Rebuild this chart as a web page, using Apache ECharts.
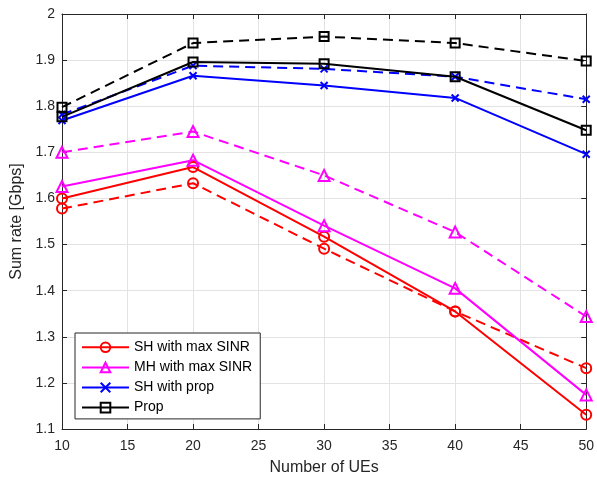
<!DOCTYPE html>
<html>
<head>
<meta charset="utf-8">
<script src="https://cdn.jsdelivr.net/npm/echarts@6/dist/echarts.min.js"></script>
<style>
  html, body { margin: 0; padding: 0; background: #fff; }
  #chart { width: 597px; height: 481px; }
</style>
</head>
<body>
<div id="chart"></div>
<script>
// Number of UEs on the x axis
const ues = [10, 20, 30, 40, 50];

// Sum rate [Gbps], solid and dashed variant of each scheme
const shMaxSinr      = [1.600, 1.668, 1.517, 1.355, 1.131];
const shMaxSinrDash  = [1.578, 1.633, 1.491, 1.355, 1.232];
const mhMaxSinr      = [1.626, 1.683, 1.541, 1.405, 1.174];
const mhMaxSinrDash  = [1.700, 1.745, 1.650, 1.527, 1.344];
const shProp         = [1.769, 1.866, 1.845, 1.818, 1.696];
const shPropDash     = [1.782, 1.888, 1.881, 1.864, 1.815];
const prop           = [1.777, 1.896, 1.892, 1.864, 1.748];
const propDash       = [1.798, 1.937, 1.951, 1.937, 1.898];

const legendNames = ['SH with max SINR', 'MH with max SINR', 'SH with prop', 'Prop'];

const FONT = 'Liberation Sans, Arial, sans-serif';
const AXIS_COLOR = '#262626';
const GRID_COLOR = '#e3e3e3';
const CROSS = 'path://M0,0L10,10M10,0L0,10';

function pairs(vals) {
  return ues.map((x, i) => [x, vals[i]]);
}

function makeSeries(name, vals, color, symbol, size, dashed) {
  return {
    name: name,
    type: 'line',
    data: pairs(vals),
    symbol: symbol,
    symbolSize: size,
    symbolKeepAspect: true,
    showAllSymbol: true,
    animation: false,
    z: dashed ? 2 : 3,
    lineStyle: {
      color: color,
      width: 2,
      type: dashed ? [10, 6] : 'solid'
    },
    itemStyle: {
      color: 'none',
      borderColor: color,
      borderWidth: 2
    },
    emphasis: { disabled: true }
  };
}

// solid series first so the legend shows their solid line style
const series = [
  makeSeries(legendNames[0], shMaxSinr, '#ff0000', 'circle', 10, false),
  makeSeries(legendNames[1], mhMaxSinr, '#ff00ff', 'triangle', 11, false),
  makeSeries(legendNames[2], shProp, '#0000ff', CROSS, 7, false),
  makeSeries(legendNames[3], prop, '#000000', 'rect', 9, false),
  makeSeries(legendNames[0], shMaxSinrDash, '#ff0000', 'circle', 10, true),
  makeSeries(legendNames[1], mhMaxSinrDash, '#ff00ff', 'triangle', 11, true),
  makeSeries(legendNames[2], shPropDash, '#0000ff', CROSS, 7, true),
  makeSeries(legendNames[3], propDash, '#000000', 'rect', 9, true)
];

const baseAxis = {
  axisLine: { show: true, onZero: false, lineStyle: { color: AXIS_COLOR, width: 1 } },
  axisTick: { show: true, inside: true, length: 5, lineStyle: { color: AXIS_COLOR } },
  axisLabel: { color: AXIS_COLOR, fontFamily: FONT, fontSize: 14 },
  nameTextStyle: { color: AXIS_COLOR, fontFamily: FONT, fontSize: 16 }
};

const chart = echarts.init(document.getElementById('chart'), null, { renderer: 'canvas' });
chart.setOption({
  animation: false,
  backgroundColor: '#ffffff',
  grid: { left: 62, right: 8, top: 14, bottom: 51, containLabel: false },
  legend: {
    data: legendNames,
    orient: 'vertical',
    left: 75,
    top: 333,
    padding: [7, 8, 4, 6],
    itemWidth: 47,
    itemHeight: 12,
    itemGap: 5.5,
    backgroundColor: '#ffffff',
    borderColor: '#262626',
    borderWidth: 1,
    borderRadius: 0,
    selectedMode: false,
    textStyle: { color: '#000000', fontFamily: FONT, fontSize: 14, lineHeight: 14 }
  },
  xAxis: [
    Object.assign({}, baseAxis, {
      type: 'value',
      min: 10, max: 50, interval: 5,
      name: 'Number of UEs',
      nameLocation: 'middle',
      nameGap: 31,
      axisLabel: Object.assign({}, baseAxis.axisLabel, { margin: 10 }),
      splitLine: { show: true, lineStyle: { color: GRID_COLOR, width: 1 } }
    }),
    Object.assign({}, baseAxis, {
      type: 'value',
      position: 'top',
      min: 10, max: 50, interval: 5,
      axisLabel: { show: false },
      splitLine: { show: false }
    })
  ],
  yAxis: [
    Object.assign({}, baseAxis, {
      type: 'value',
      min: 1.1, max: 2, interval: 0.1,
      name: 'Sum rate [Gbps]',
      nameLocation: 'middle',
      nameGap: 36,
      axisLabel: Object.assign({}, baseAxis.axisLabel, {
        margin: 7,
        formatter: v => String(Math.round(v * 10) / 10)
      }),
      splitLine: { show: true, lineStyle: { color: GRID_COLOR, width: 1 } }
    }),
    Object.assign({}, baseAxis, {
      type: 'value',
      position: 'right',
      min: 1.1, max: 2, interval: 0.1,
      axisLabel: { show: false },
      splitLine: { show: false }
    })
  ],
  series: series
});
</script>
</body>
</html>
